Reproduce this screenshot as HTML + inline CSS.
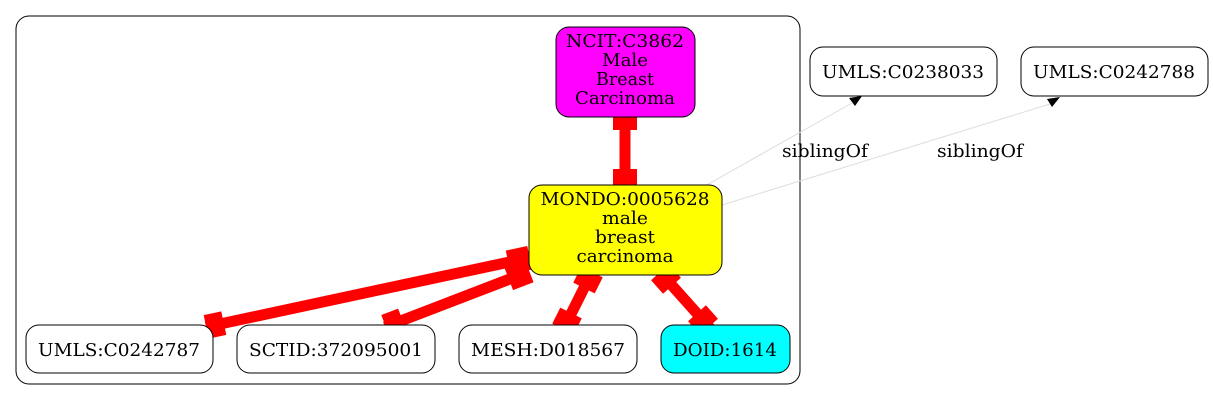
<!DOCTYPE html>
<html><head><meta charset="utf-8"><style>
html,body{margin:0;padding:0;background:#fff;}
svg{display:block;}
text{font-family:"DejaVu Serif","Liberation Serif",serif;font-size:18px;fill:#000;text-anchor:middle;}
</style></head><body>
<svg width="1213" height="400" viewBox="0 0 1213 400" xmlns="http://www.w3.org/2000/svg">
<rect x="16" y="16" width="784" height="368" rx="13" fill="#fff" stroke="#000" stroke-width="1"/>

<line x1="705" y1="186" x2="852" y2="103" stroke="#ddd" stroke-width="1"/>
<polygon points="849,98 862,96 855,106" fill="#000"/>
<line x1="722" y1="205" x2="1050" y2="104" stroke="#ddd" stroke-width="1"/>
<polygon points="1047,99 1060,97 1052,107" fill="#000"/>
<text x="825" y="157" textLength="86" lengthAdjust="spacingAndGlyphs">siblingOf</text>
<text x="980" y="157" textLength="86" lengthAdjust="spacingAndGlyphs">siblingOf</text>

<g stroke="#f00" stroke-width="11">
<line x1="625" y1="112" x2="625" y2="190"/>
<line x1="528" y1="258" x2="206" y2="327"/>
<line x1="528" y1="272" x2="385" y2="327"/>
<line x1="592" y1="272" x2="563" y2="330"/>
<line x1="660" y1="272" x2="710" y2="328"/>
</g>
<g fill="#f00">
<rect x="-9" y="-12" width="18" height="24" transform="translate(625,121) rotate(90)"/>
<rect x="-11" y="-12" width="22" height="24" transform="translate(625,180) rotate(90)"/>
<rect x="-11" y="-12" width="22" height="24" transform="translate(519,260) rotate(167.9)"/>
<rect x="-9" y="-12" width="18" height="24" transform="translate(215,325) rotate(167.9)"/>
<rect x="-11" y="-12" width="22" height="24" transform="translate(519,275) rotate(159)"/>
<rect x="-9" y="-12" width="18" height="24" transform="translate(394,323) rotate(159)"/>
<rect x="-9" y="-12" width="18" height="24" transform="translate(588,280) rotate(116.6)"/>
<rect x="-9" y="-12" width="18" height="24" transform="translate(567,321) rotate(116.6)"/>
<rect x="-9" y="-12" width="18" height="24" transform="translate(666,279) rotate(48.2)"/>
<rect x="-9" y="-12" width="18" height="24" transform="translate(703,320) rotate(48.2)"/>
</g>

<rect x="556" y="27" width="139" height="90" rx="13" fill="#f0f" stroke="#000"/>
<text x="625" y="47" textLength="118" lengthAdjust="spacingAndGlyphs">NCIT:C3862</text>
<text x="625" y="66" textLength="46" lengthAdjust="spacingAndGlyphs">Male</text>
<text x="625" y="85" textLength="58" lengthAdjust="spacingAndGlyphs">Breast</text>
<text x="625" y="104" textLength="100" lengthAdjust="spacingAndGlyphs">Carcinoma</text>

<rect x="529" y="185" width="193" height="90" rx="13" fill="#ff0" stroke="#000"/>
<text x="625" y="205" textLength="169" lengthAdjust="spacingAndGlyphs">MONDO:0005628</text>
<text x="625" y="224" textLength="46" lengthAdjust="spacingAndGlyphs">male</text>
<text x="625" y="243" textLength="60" lengthAdjust="spacingAndGlyphs">breast</text>
<text x="625" y="262" textLength="97" lengthAdjust="spacingAndGlyphs">carcinoma</text>

<rect x="810" y="47" width="187" height="49" rx="13" fill="#fff" stroke="#000"/>
<text x="903" y="78" textLength="162" lengthAdjust="spacingAndGlyphs">UMLS:C0238033</text>
<rect x="1021" y="47" width="187" height="49" rx="13" fill="#fff" stroke="#000"/>
<text x="1114" y="78" textLength="162" lengthAdjust="spacingAndGlyphs">UMLS:C0242788</text>

<rect x="26" y="325" width="187" height="48" rx="13" fill="#fff" stroke="#000"/>
<text x="119" y="356" textLength="162" lengthAdjust="spacingAndGlyphs">UMLS:C0242787</text>
<rect x="237" y="325" width="198" height="48" rx="13" fill="#fff" stroke="#000"/>
<text x="336" y="356" textLength="174" lengthAdjust="spacingAndGlyphs">SCTID:372095001</text>
<rect x="459" y="325" width="178" height="48" rx="13" fill="#fff" stroke="#000"/>
<text x="548" y="356" textLength="154" lengthAdjust="spacingAndGlyphs">MESH:D018567</text>
<rect x="661" y="325" width="129" height="48" rx="13" fill="#0ff" stroke="#000"/>
<text x="725" y="356" textLength="104" lengthAdjust="spacingAndGlyphs">DOID:1614</text>
</svg>
</body></html>
